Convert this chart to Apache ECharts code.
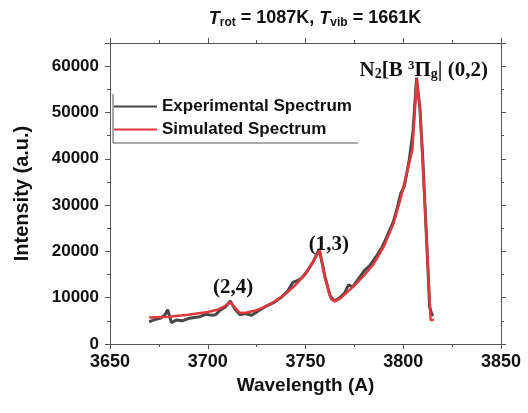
<!DOCTYPE html>
<html>
<head>
<meta charset="utf-8">
<title>N2 second positive spectrum</title>
<script src="https://cdn.jsdelivr.net/npm/echarts@6/dist/echarts.min.js"></script>
<style>
  html, body { margin: 0; padding: 0; background: #fff; }
  #chart { width: 528px; height: 413px; }
</style>
</head>
<body>
<div id="chart"></div>
<script>
  'use strict';

  // wavelength (A) / intensity (a.u.)
  var expWavelength = [3670, 3673, 3676, 3678, 3679.5, 3681.5, 3684, 3687, 3690, 3693, 3696, 3699, 3702, 3704,
    3706, 3709, 3711.5, 3714, 3716.5, 3719, 3722.5, 3726, 3730, 3734, 3738, 3741, 3743.5, 3745.5, 3748,
    3751, 3754, 3757, 3760, 3762.5, 3764.5, 3767, 3770, 3772, 3774, 3777, 3780, 3783, 3786, 3789, 3792,
    3795, 3797, 3798.7, 3800.5, 3803, 3805, 3806.8, 3808.5, 3810, 3812, 3813.5, 3814.5, 3815.3];
  var expIntensity = [4800, 5300, 5600, 6200, 7400, 4600, 5200, 5000, 5500, 5700, 5900, 6400, 6200, 6300,
    7200, 8000, 9300, 7500, 6300, 6600, 6200, 7200, 8200, 9000, 10200, 11500, 13300, 13600, 14200,
    15800, 17800, 20500, 14500, 10500, 9300, 9800, 11000, 12800, 12300, 14000, 15800, 17000, 18800, 20800, 23500,
    26500, 29500, 32500, 34000, 39500, 46000, 57500, 51000, 40000, 22000, 8000, 6500, 6100];

  var simWavelength = [3670, 3680, 3690, 3700, 3705, 3708, 3711.5, 3716.5, 3720, 3725, 3730, 3735, 3740,
    3745, 3750, 3754, 3757.3, 3760, 3763, 3765, 3768, 3770, 3775, 3780, 3785, 3790, 3795, 3798.7,
    3801, 3804.7, 3806.9, 3808.6, 3814, 3815.6];
  var simIntensity = [5700, 5900, 6300, 6900, 7400, 8000, 9000, 6700, 6800, 7300, 8200, 9400, 10900,
    12800, 15100, 17900, 20200, 14200, 9800, 9200, 9900, 10700, 12600, 14800, 17400, 21000, 26000, 31500,
    35500, 42000, 57200, 50500, 5200, 5200];

  var xTicks = [3650, 3850, 50];
  var yTicks = [0, 65000, 10000];

  var peakLabels = ['(2,4)', '(1,3)', 'N{sub|2}[B {sup|3}Π{sub|g}| (0,2)'];
  var peakCoords = [[3713, 12100], [3762, 21400], [3810.5, 59100]];

  function pairs(xs, ys) {
    return xs.map(function (x, i) { return [x, ys[i]]; });
  }

  var axisColor = '#555';
  var sans = 'Liberation Sans';
  var serif = 'Liberation Serif';

  var chart = echarts.init(document.getElementById('chart'), null, { renderer: 'canvas' });

  function frameAxis(base) {
    return Object.assign({
      type: 'value',
      axisLine: { show: true, onZero: false, lineStyle: { color: axisColor, width: 1 } },
      axisTick: { show: true, inside: false, length: 5, lineStyle: { color: axisColor } },
      minorTick: { show: true, splitNumber: 2, length: 3, lineStyle: { color: axisColor } },
      splitLine: { show: false },
      minorSplitLine: { show: false }
    }, base);
  }

  var option = {
    backgroundColor: '#fff',
    animation: false,
    grid: { left: 110, right: 27, top: 43, bottom: 69, containLabel: false },
    xAxis: [
      frameAxis({
        min: xTicks[0], max: xTicks[1], interval: xTicks[2],
        position: 'bottom',
        name: 'Wavelength (A)',
        nameLocation: 'middle',
        nameGap: 30,
        nameTextStyle: { fontFamily: sans, fontWeight: 'bold', fontSize: 19, color: '#111' },
        axisLabel: {
          margin: 9, fontFamily: sans, fontWeight: 'bold', fontSize: 18, color: '#111',
          formatter: function (v) { return String(v); }
        }
      }),
      frameAxis({
        min: xTicks[0], max: xTicks[1], interval: xTicks[2],
        position: 'top',
        axisLabel: { show: false }
      })
    ],
    yAxis: [
      frameAxis({
        min: yTicks[0], max: yTicks[1], interval: yTicks[2],
        position: 'left',
        name: 'Intensity (a.u.)',
        nameLocation: 'middle',
        nameRotate: 90,
        nameGap: 78,
        nameTextStyle: { fontFamily: sans, fontWeight: 'bold', fontSize: 20, color: '#111' },
        axisLabel: {
          margin: 11, fontFamily: sans, fontWeight: 'bold', fontSize: 17, color: '#111',
          formatter: function (v) { return v % 10000 === 0 ? String(v) : ''; }
        }
      }),
      frameAxis({
        min: yTicks[0], max: yTicks[1], interval: yTicks[2],
        position: 'right',
        axisLabel: { show: false }
      })
    ],
    legend: {
      orient: 'vertical',
      left: 114,
      top: 98,
      icon: 'rect',
      itemWidth: 43,
      itemHeight: 2,
      itemGap: 6,
      padding: 0,
      textStyle: { fontFamily: sans, fontWeight: 'bold', fontSize: 17, color: '#111', lineHeight: 17 },
      data: ['Experimental Spectrum', 'Simulated Spectrum']
    },
    graphic: [
      {
        type: 'text',
        x: 315, y: 18,
        style: {
          text: '{it|T}{sub|rot} = 1087K, {it|T}{sub|vib} = 1661K',
          align: 'center',
          verticalAlign: 'middle',
          font: 'bold 18px ' + sans,
          fill: '#111',
          rich: {
            it: { fontStyle: 'italic', fontWeight: 'bold', fontSize: 18, fontFamily: sans, lineHeight: 20, verticalAlign: 'bottom' },
            sub: { fontWeight: 'bold', fontSize: 12, fontFamily: sans, lineHeight: 20, verticalAlign: 'bottom', padding: [0, 0, -1, 0] }
          }
        }
      },
      { type: 'line', shape: { x1: 113, y1: 94, x2: 113, y2: 143 }, style: { stroke: axisColor, lineWidth: 1 } },
      { type: 'line', shape: { x1: 113, y1: 143, x2: 358, y2: 143 }, style: { stroke: axisColor, lineWidth: 1 } }
    ],
    series: [
      {
        name: 'Experimental Spectrum',
        type: 'line',
        symbol: 'none',
        data: pairs(expWavelength, expIntensity),
        lineStyle: { color: '#474747', width: 3 },
        itemStyle: { color: '#474747' },
        z: 2
      },
      {
        name: 'Simulated Spectrum',
        type: 'line',
        symbol: 'none',
        data: pairs(simWavelength, simIntensity),
        lineStyle: { color: '#e0383d', width: 2.5 },
        itemStyle: { color: '#e0383d' },
        z: 3,
        markPoint: {
          symbol: 'circle',
          symbolSize: 0,
          silent: true,
          label: {
            show: true,
            position: 'inside',
            fontFamily: serif,
            fontWeight: 'bold',
            fontSize: 21,
            color: '#111',
            rich: {
              sub: { fontFamily: serif, fontWeight: 'bold', fontSize: 14, verticalAlign: 'bottom', padding: [0, 0, -1, 0] },
              sup: { fontFamily: serif, fontWeight: 'bold', fontSize: 13, verticalAlign: 'top', padding: [-1, 0, 0, 0] }
            },
            formatter: function (p) { return p.data.text; }
          },
          data: peakCoords.map(function (c, i) {
            return { coord: c, text: peakLabels[i] };
          })
        }
      }
    ]
  };

  chart.setOption(option);
</script>
</body>
</html>
